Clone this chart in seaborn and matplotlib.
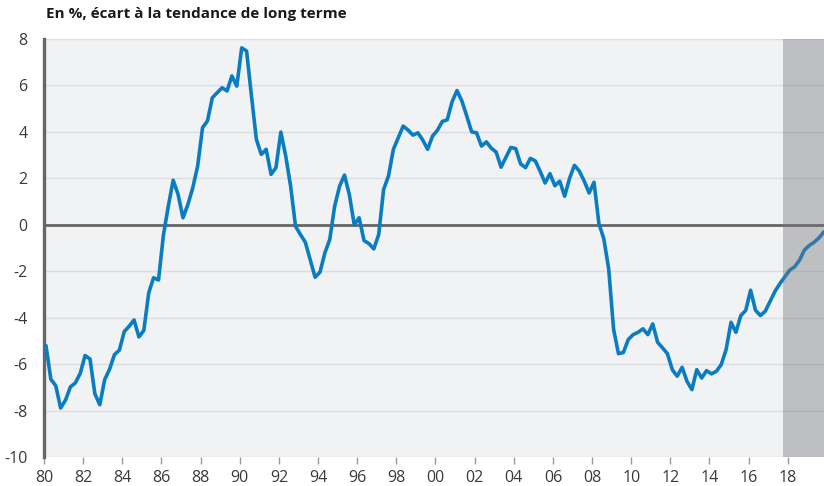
import numpy as np
import pandas as pd
import matplotlib
matplotlib.use("Agg")
from matplotlib import pyplot as plt
import seaborn as sns

# Quarterly output gap, % deviation from long-term trend, 1980Q1 .. 2019Q4
start_year = 1980
gap_values = [
    -5.2, -6.65, -6.93, -7.89, -7.55, -6.98, -6.81, -6.4,      # 80-81
    -5.63, -5.78, -7.28, -7.75, -6.67, -6.22, -5.59, -5.4,     # 82-83
    -4.6, -4.37, -4.1, -4.83, -4.55, -2.93, -2.28, -2.38,      # 84-85
    -0.45, 0.8, 1.92, 1.31, 0.3, 0.87, 1.59, 2.53,             # 86-87
    4.18, 4.47, 5.47, 5.69, 5.9, 5.76, 6.41, 5.97,             # 88-89
    7.62, 7.48, 5.54, 3.68, 3.03, 3.25, 2.17, 2.46,            # 90-91
    3.99, 2.96, 1.66, -0.06, -0.42, -0.75, -1.5, -2.26,        # 92-93
    -2.04, -1.21, -0.63, 0.8, 1.66, 2.14, 1.3, 0.0,            # 94-95
    0.3, -0.68, -0.81, -1.04, -0.42, 1.52, 2.1, 3.25,          # 96-97
    3.75, 4.25, 4.08, 3.86, 3.96, 3.65, 3.25, 3.82,            # 98-99
    4.07, 4.45, 4.52, 5.3, 5.78, 5.33, 4.68, 4.0,              # 00-01
    3.96, 3.39, 3.57, 3.3, 3.13, 2.48, 2.9, 3.33,              # 02-03
    3.28, 2.62, 2.46, 2.86, 2.75, 2.3, 1.8, 2.2,               # 04-05
    1.68, 1.88, 1.23, 2.0, 2.56, 2.31, 1.88, 1.37,             # 06-07
    1.83, 0.05, -0.6, -1.9, -4.5, -5.55, -5.5, -4.94,          # 08-09
    -4.73, -4.63, -4.48, -4.73, -4.27, -5.06, -5.3, -5.55,     # 10-11
    -6.24, -6.52, -6.14, -6.74, -7.1, -6.24, -6.6, -6.28,      # 12-13
    -6.42, -6.31, -6.02, -5.37, -4.2, -4.63, -3.91, -3.69,     # 14-15
    -2.82, -3.68, -3.91, -3.72, -3.29, -2.86, -2.53, -2.24,    # 16-17
    -1.95, -1.81, -1.52, -1.09, -0.89, -0.75, -0.56, -0.3,     # 18-19
]
forecast_start = 2017.75
y_ticks = [-10, -8, -6, -4, -2, 0, 2, 4, 6, 8]
x_tick_years = list(range(1980, 2019, 2))
x_tick_labels = [f"{y % 100:02d}" for y in x_tick_years]
title = "En %, écart à la tendance de long terme"

df = pd.DataFrame({
    "date": start_year + np.arange(len(gap_values)) / 4 + 0.1,
    "gap": gap_values,
})

sns.set_theme(style="white")
plt.rcParams["font.family"] = ["Open Sans", "DejaVu Sans"]

fig = plt.figure(figsize=(8.24, 4.86), dpi=100)
ax = fig.add_axes([44 / 824, 29 / 486, 780 / 824, 418 / 486])
ax.set_facecolor("#f1f2f4")

ax.axhline(0, color="#666666", lw=2.0, zorder=2)
sns.lineplot(data=df, x="date", y="gap", ax=ax, color="#0a7dc2",
             lw=2.6, zorder=3)
# forecast period, shaded on top of the line
ax.axvspan(forecast_start, 2021, color="#72737a", alpha=0.4, lw=0, zorder=4)

ax.set_xlim(1980, 2019.85)
ax.set_ylim(-10, 8)
ax.set_yticks(y_ticks)
ax.set_yticklabels([str(v) for v in y_ticks])
ax.set_xticks(x_tick_years)
ax.set_xticklabels(x_tick_labels)
ax.yaxis.grid(True, color="#dcdde0", lw=1.0)
ax.set_axisbelow(True)
ax.set_xlabel("")
ax.set_ylabel("")

for side in ("top", "right", "bottom"):
    ax.spines[side].set_visible(False)
ax.spines["left"].set_color("#666666")
ax.spines["left"].set_linewidth(2.4)

ax.tick_params(axis="y", length=0, pad=12, labelsize=11.5, labelcolor="#3a3a3a")
ax.tick_params(axis="x", length=5, width=1, color="#9a9a9a", pad=4,
               labelsize=11.5, labelcolor="#3a3a3a", bottom=True)

fig.text(46 / 824, 1 - 14 / 486, title, fontsize=11, fontweight="bold",
         color="#1a1a1a", va="center", ha="left")

fig.savefig("out.png", dpi=100)
